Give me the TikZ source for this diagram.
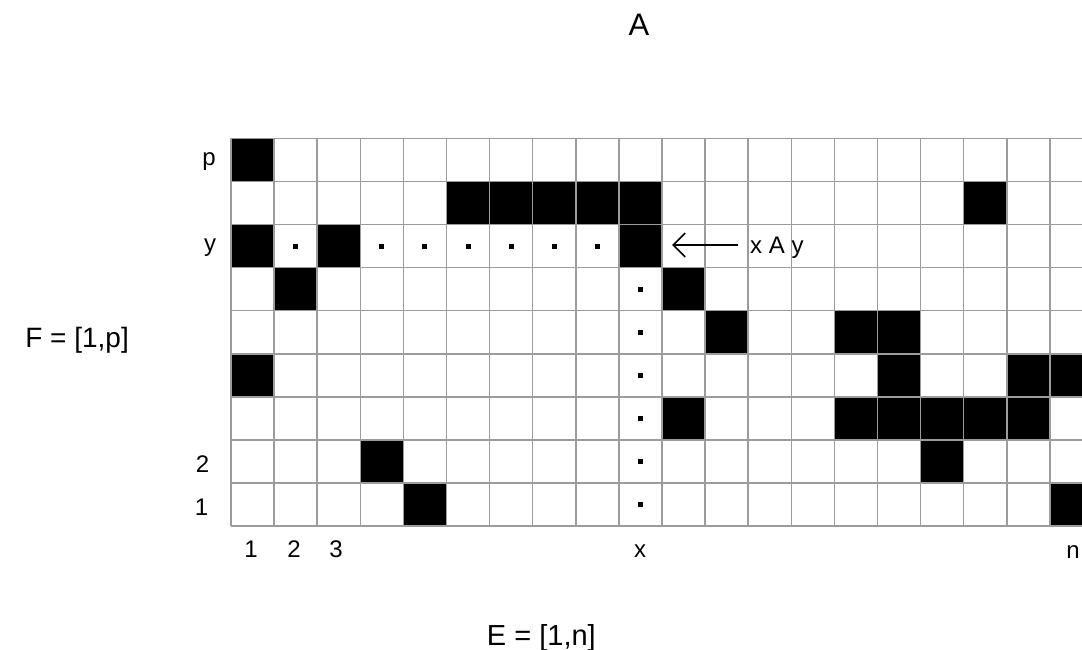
\documentclass[tikz,border=0pt]{standalone}
\usepackage{fontspec}
\setmainfont{Liberation Sans}
\usetikzlibrary{arrows.meta}
\definecolor{gridgray}{HTML}{9C9C9C}
\tikzset{
  gridline/.style={draw=gridgray, line width=1.5pt},
  cellfill/.style={fill=black},
  dotmark/.style={fill=black},
  lab/.style={inner sep=0pt, anchor=base, font=\fontsize{24}{28}\selectfont},
  biglab/.style={inner sep=0pt, font=\fontsize{28}{32}\selectfont},
  pointer/.style={draw=black, line width=1.6pt, -{Straight Barb[length=12pt, width=24pt, line width=1.6pt]}}
}
\begin{document}
\begin{tikzpicture}[x=1pt, y=-1pt]
\useasboundingbox (0,0) rectangle (1082,650);
\def\gx{231}
\def\gy{138.5}
\def\cw{43.1}
\def\ch{43.06}
% black cells (column/row, rows counted from the bottom)
\foreach \c/\r in {1/9, 6/8, 7/8, 8/8, 9/8, 10/8, 18/8, 1/7, 3/7, 10/7, 2/6, 11/6,
                   12/5, 15/5, 16/5, 1/4, 16/4, 19/4, 20/4,
                   11/3, 15/3, 16/3, 17/3, 18/3, 19/3, 4/2, 17/2, 5/1, 20/1}
  \fill[cellfill] ({\gx+(\c-1)*\cw}, {\gy+(9-\r)*\ch}) rectangle +(\cw, \ch);
% dots
\foreach \c in {2,4,5,6,7,8,9}
  \fill[dotmark] ({\gx+(\c-0.5)*\cw-2.5}, {\gy+2.5*\ch-2.5}) rectangle +(5,5);
\foreach \r in {1,...,6}
  \fill[dotmark] ({\gx+9.5*\cw-2.5}, {\gy+(9.5-\r)*\ch-2.5}) rectangle +(5,5);
% grid
\begin{scope}
  \clip (0,0) rectangle (1082,650);
  \foreach \k in {0,...,20}
    \draw[gridline] ({\gx+\k*\cw}, \gy) -- ({\gx+\k*\cw}, {\gy+9*\ch});
  \foreach \k in {0,...,9}
    \draw[gridline] (\gx, {\gy+\k*\ch}) -- ({\gx+20*\cw}, {\gy+\k*\ch});
\end{scope}
% labels
\node[biglab, anchor=base, font=\fontsize{31}{34}\selectfont] (A) at (639,36) {A};
\node[biglab, anchor=base east] (F) at (129,347) {F = [1,p]};
\node[biglab, anchor=base east, font=\fontsize{29}{33}\selectfont] (E) at (596,645) {E = [1,n]};
\node[lab] (rp) at (209,165) {p};
\node[lab] (ry) at (210,251.5) {y};
\node[lab] (r2) at (202.5,472) {2};
\node[lab] (r1) at (201.5,515) {1};
\node[lab] (c1) at (251,557) {1};
\node[lab] (c2) at (294,557) {2};
\node[lab] (c3) at (336,557) {3};
\node[lab] (cx) at (640,557) {x};
\node[lab] (cn) at (1073,558) {n};
\node[lab, anchor=base west, inner xsep=12pt] (xay) at (738,253) {x A y};
\coordinate (tip) at (672,245);
\draw[pointer] (xay.west |- tip) -- (tip);
\end{tikzpicture}
\end{document}
